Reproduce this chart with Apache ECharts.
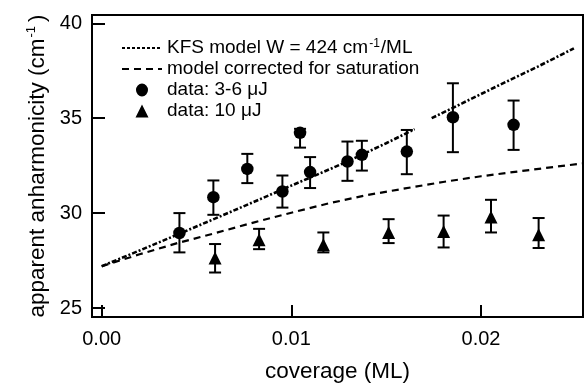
<!DOCTYPE html>
<html>
<head>
<meta charset="utf-8">
<script src="https://cdn.jsdelivr.net/npm/echarts@6/dist/echarts.min.js"></script>
<style>
html,body{margin:0;padding:0;background:#fff;}
#c{width:584px;height:385px;}
</style>
</head>
<body>
<div id="c"></div>
<script>
// ---- data ----
var xTicks = [0, 0.01, 0.02];
var yTicks = [25, 30, 35, 40];

// data: 3-6 uJ (circles)
var circX  = [0.00410, 0.00589, 0.00768, 0.00953, 0.01046, 0.01099, 0.01296, 0.01372, 0.01609, 0.01852, 0.02172];
var circY  = [28.95, 30.84, 32.33, 31.14, 34.23, 32.16, 32.72, 33.07, 33.24, 35.05, 34.65];
var circLo = [27.93, 29.91, 31.58, 30.29, 33.45, 31.32, 31.70, 32.24, 32.05, 33.21, 33.33];
var circHi = [30.00, 31.72, 33.12, 31.98, 34.44, 32.95, 33.77, 33.81, 34.38, 36.84, 35.93];

// data: 10 uJ (triangles)
var triX  = [0.00598, 0.00830, 0.01169, 0.01513, 0.01803, 0.02053, 0.02304];
var triY  = [27.63, 28.59, 28.33, 28.98, 29.03, 29.79, 28.86];
var triLo = [26.87, 28.10, 27.93, 28.42, 28.19, 28.98, 28.16];
var triHi = [28.37, 29.17, 28.98, 29.68, 29.87, 30.70, 29.74];

// KFS model (null = gap in the drawn curve)
var kfsX = [0, 0.002, 0.004, 0.006, 0.008, 0.010, 0.012, 0.013, 0.015, 0.0165, 0.0170, 0.0174, 0.019, 0.021, 0.023, 0.0249];
var kfsY = [27.2, 28.03, 28.87, 29.72, 30.58, 31.45, 32.3, 32.74, 33.68, 34.42, null, 35.0, 35.78, 36.76, 37.72, 38.68];

// model corrected for saturation
var corrX = [0, 0.002, 0.004, 0.006, 0.008, 0.010, 0.012, 0.014, 0.016, 0.018, 0.020, 0.022, 0.024, 0.0254];
var corrY = [27.2, 27.83, 28.42, 28.95, 29.5, 30.02, 30.52, 30.95, 31.3, 31.64, 31.94, 32.2, 32.45, 32.62];

var legendNames = {
  kfs: '{a|KFS model W = 424 cm}{s|-1}{a|/ML}',
  corr: '{a|model corrected for saturation}',
  c36: '{a|data: 3-6 \u03bcJ}',
  t10: '{a|data: 10 \u03bcJ}'
};

function zip(xs, ys) { return xs.map(function (x, i) { return [x, ys[i]]; }); }
function zip3(xs, lo, hi) { return xs.map(function (x, i) { return [x, lo[i], hi[i]]; }); }

var FONT = '"Liberation Sans", Arial, sans-serif';

function errRender(params, api) {
  var x = api.value(0);
  var p1 = api.coord([x, api.value(1)]);
  var p2 = api.coord([x, api.value(2)]);
  var hw = 6;
  var st = { stroke: '#000', lineWidth: 2 };
  return {
    type: 'group',
    children: [
      { type: 'line', shape: { x1: p1[0], y1: p1[1], x2: p2[0], y2: p2[1] }, style: st },
      { type: 'line', shape: { x1: p1[0] - hw, y1: p1[1], x2: p1[0] + hw, y2: p1[1] }, style: st },
      { type: 'line', shape: { x1: p2[0] - hw, y1: p2[1], x2: p2[0] + hw, y2: p2[1] }, style: st }
    ]
  };
}

var noSym = { color: 'rgba(0,0,0,0)', borderColor: 'rgba(0,0,0,0)', borderWidth: 0 };
var triIcon = 'path://M0,13L0.01,13Z M13.5,13L20,0L26.5,13Z M39.99,13L40,13Z';
var circIcon = 'path://M0,6.5L0.01,6.5Z M14,6.5A6,6.5 0 1 1 26,6.5A6,6.5 0 1 1 14,6.5Z M39.99,6.5L40,6.5Z';

var chart = echarts.init(document.getElementById('c'), null, { renderer: 'canvas' });
chart.setOption({
  animation: false,
  backgroundColor: '#fff',
  grid: { left: 92, right: 1, top: 15, bottom: 68, containLabel: false, outerBoundsMode: 'none',
          show: true, borderColor: '#000', borderWidth: 2, backgroundColor: 'transparent' },
  xAxis: {
    type: 'value', min: -0.00051, max: 0.02538,
    axisLine: { show: true, onZero: false, lineStyle: { color: '#000', width: 2 } },
    axisTick: { show: true, inside: true, length: 12, lineStyle: { color: '#000', width: 2 }, customValues: xTicks },
    axisLabel: { customValues: xTicks, formatter: function (v) { return v.toFixed(2); }, color: '#000', fontSize: 20, fontFamily: FONT, margin: 12 },
    splitLine: { show: false },
    name: 'coverage (ML)', nameLocation: 'middle', nameGap: 43,
    nameTextStyle: { color: '#000', fontSize: 22.5, fontFamily: FONT }
  },
  yAxis: {
    type: 'value', min: 24.526, max: 40.437,
    axisLine: { show: true, onZero: false, lineStyle: { color: '#000', width: 2 } },
    axisTick: { show: true, inside: true, length: 13, lineStyle: { color: '#000', width: 2 }, customValues: yTicks },
    axisLabel: { customValues: yTicks, color: '#000', fontSize: 20, fontFamily: FONT, margin: 10 },
    splitLine: { show: false },
    name: 'apparent anharmonicity (cm{s|-1})', nameLocation: 'middle', nameGap: 42,
    nameTextStyle: {
      color: '#000', fontSize: 22.5, fontFamily: FONT,
      rich: { s: { fontSize: 13, fontFamily: FONT, color: '#000', verticalAlign: 'top', padding: [0, 4, 12, 1] } }
    }
  },
  legend: {
    orient: 'vertical', left: 116, top: 33,
    itemWidth: 40, itemHeight: 13, itemGap: 1,
    formatter: function (n) { return legendNames[n]; },
    textStyle: {
      color: '#000', fontSize: 19, fontFamily: FONT, lineHeight: 20,
      rich: {
        a: { fontSize: 19, fontFamily: FONT, color: '#000', lineHeight: 20 },
        s: { fontSize: 12, fontFamily: FONT, color: '#000', verticalAlign: 'top', padding: [0, 1, 8, 1] }
      }
    },
    data: [
      { name: 'kfs', itemStyle: noSym, lineStyle: { type: [3, 2], width: 2, color: '#000' } },
      { name: 'corr', itemStyle: noSym, lineStyle: { type: [7, 5], width: 2, color: '#000' } },
      { name: 'c36', icon: circIcon, itemStyle: { color: '#000', opacity: 1 } },
      { name: 't10', icon: triIcon, itemStyle: { color: '#000', opacity: 1 } }
    ]
  },
  series: [
    {
      name: 'kfs', type: 'line', data: zip(kfsX, kfsY), showSymbol: false, symbol: 'none',
      itemStyle: { color: '#000' },
      connectNulls: false, lineStyle: { color: '#000', width: 2.6, type: [5, 2, 2, 2] }, z: 3
    },
    {
      name: 'corr', type: 'line', data: zip(corrX, corrY), showSymbol: false, symbol: 'none', smooth: false,
      itemStyle: { color: '#000' },
      lineStyle: { color: '#000', width: 2.2, type: [7, 5] }, z: 3
    },
    {
      name: 'c36err', type: 'custom', renderItem: errRender, data: zip3(circX, circLo, circHi), z: 4, silent: true
    },
    {
      name: 'c36', type: 'scatter', data: zip(circX, circY), symbol: 'circle', symbolSize: 12.5,
      itemStyle: { color: '#000', opacity: 1 }, z: 5
    },
    {
      name: 't10err', type: 'custom', renderItem: errRender, data: zip3(triX, triLo, triHi), z: 4, silent: true
    },
    {
      name: 't10', type: 'scatter', data: zip(triX, triY), symbol: 'triangle', symbolSize: 13,
      itemStyle: { color: '#000', opacity: 1 }, z: 5
    }
  ]
});
</script>
</body>
</html>
